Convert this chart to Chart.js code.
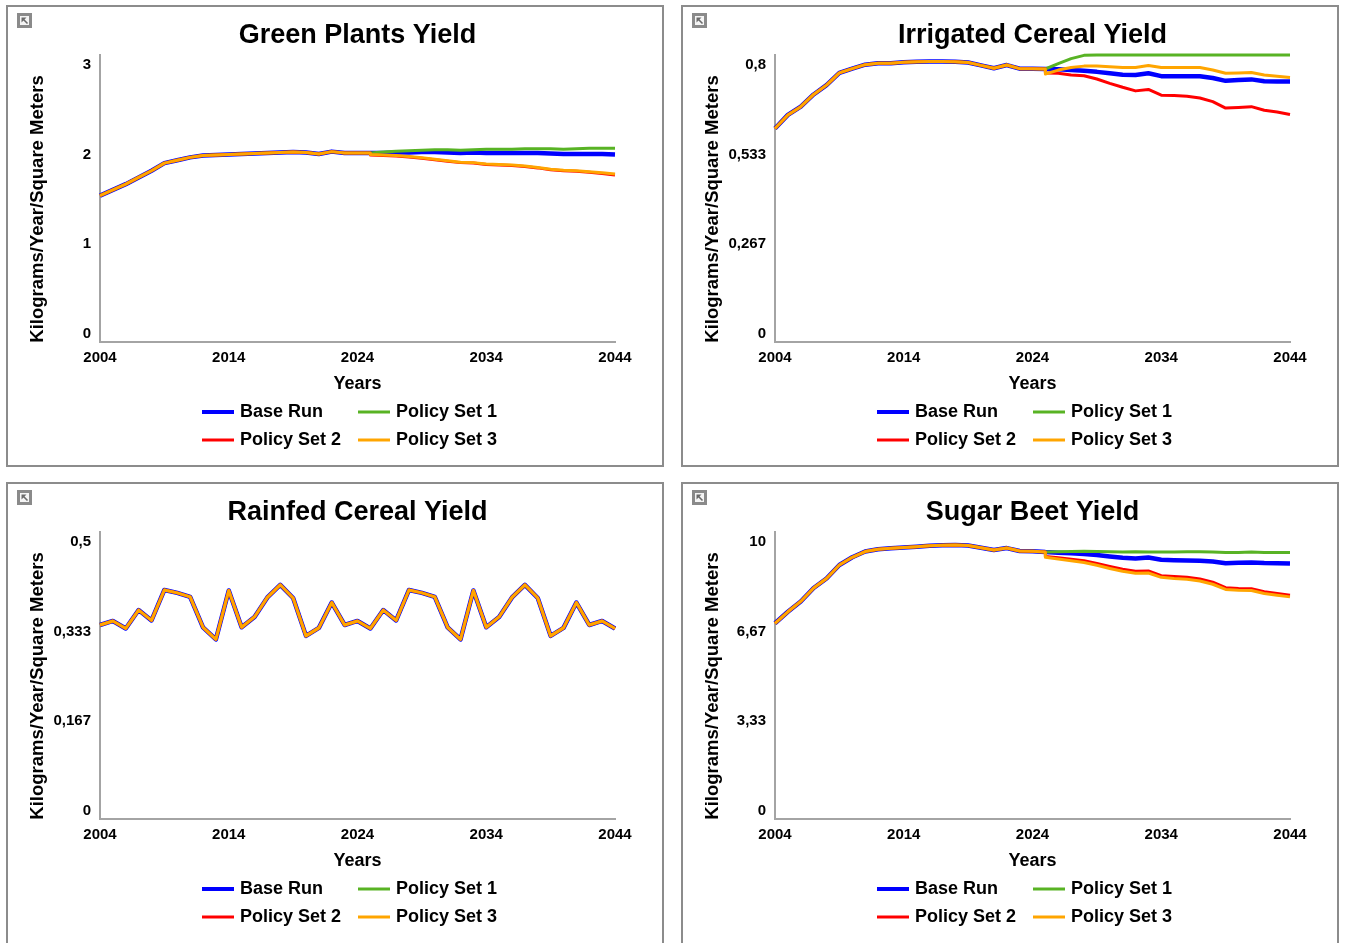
<!DOCTYPE html>
<html>
<head>
<meta charset="utf-8">
<title>Crop Yields</title>
<script src="https://cdn.jsdelivr.net/npm/chart.js@4.4.1/dist/chart.umd.min.js"></script>
<style>
  html, body { margin: 0; padding: 0; background: #fff; width: 1346px; height: 943px; overflow: hidden; }
  .panel { position: absolute; box-sizing: border-box; width: 658px; height: 462px; border: 2px solid #8c8c8c; background: #fff; }
  .panel.low { height: 472px; }
  .panel canvas { display: block; }
</style>
</head>
<body>
<div class="panel" style="left:6px;top:5px"><canvas id="greenChart" width="654" height="458"></canvas></div>
<div class="panel" style="left:681px;top:5px"><canvas id="irrigatedChart" width="654" height="458"></canvas></div>
<div class="panel low" style="left:6px;top:482px"><canvas id="rainfedChart" width="654" height="458"></canvas></div>
<div class="panel low" style="left:681px;top:482px"><canvas id="sugarChart" width="654" height="458"></canvas></div>
<script>
// ---- shared axis data ----
const years = Array.from({ length: 41 }, (_, i) => 2004 + i);   // 2004..2044
const historyYears = years.slice(0, 22);                         // 2004..2025
const policyYears = years.slice(21);                             // 2025..2044
const xTicks = [2004, 2014, 2024, 2034, 2044];
const seriesNames = ['Base Run', 'Policy Set 1', 'Policy Set 2', 'Policy Set 3'];
const seriesColors = ['#0000ff', '#58b324', '#ff0000', '#ffa500'];
const seriesWidths = [4.5, 3, 3, 3];
const yAxisTitle = 'Kilograms/Year/Square Meters';
const xAxisTitle = 'Years';

// ---- Green Plants Yield ----
const greenTicks = [0, 1, 2, 3];
const greenTickLabels = ['0', '1', '2', '3'];
const greenHistory = [1.53, 1.59, 1.65, 1.72, 1.79, 1.87, 1.90, 1.93, 1.95, 1.955, 1.96,
                      1.965, 1.97, 1.975, 1.98, 1.985, 1.98, 1.965, 1.99, 1.975, 1.975, 1.975];
const greenBase = [1.975, 1.975, 1.98, 1.98, 1.985, 1.985, 1.98, 1.975, 1.98, 1.975,
                   1.975, 1.975, 1.975, 1.975, 1.97, 1.965, 1.965, 1.965, 1.965, 1.96];
const greenPolicy1 = [1.975, 1.985, 1.995, 2.0, 2.005, 2.01, 2.01, 2.005, 2.01, 2.015,
                      2.015, 2.015, 2.02, 2.02, 2.02, 2.015, 2.02, 2.025, 2.025, 2.025];
const greenPolicy2 = [1.955, 1.95, 1.945, 1.935, 1.92, 1.905, 1.89, 1.875, 1.87, 1.855,
                      1.85, 1.845, 1.835, 1.82, 1.80, 1.79, 1.785, 1.775, 1.76, 1.745];
const greenPolicy3 = [1.96, 1.955, 1.95, 1.94, 1.925, 1.91, 1.895, 1.88, 1.875, 1.86,
                      1.855, 1.85, 1.84, 1.825, 1.805, 1.795, 1.79, 1.78, 1.77, 1.755];

// ---- Irrigated Cereal Yield ----
const irrigatedTicks = [0, 0.267, 0.533, 0.8];
const irrigatedTickLabels = ['0', '0,267', '0,533', '0,8'];
const irrigatedHistory = [0.595, 0.633, 0.656, 0.690, 0.716, 0.750, 0.762, 0.773, 0.777, 0.777, 0.780,
                          0.781, 0.782, 0.782, 0.781, 0.779, 0.771, 0.763, 0.772, 0.762, 0.762, 0.761];
const irrigatedBase = [0.761, 0.760, 0.758, 0.756, 0.753, 0.749, 0.745, 0.744, 0.749, 0.741,
                       0.741, 0.741, 0.741, 0.736, 0.728, 0.730, 0.732, 0.727, 0.726, 0.726];
const irrigatedPolicy1 = [0.761, 0.776, 0.790, 0.799, 0.8, 0.8, 0.8, 0.8, 0.8, 0.8,
                          0.8, 0.8, 0.8, 0.8, 0.8, 0.8, 0.8, 0.8, 0.8, 0.8];
const irrigatedPolicy2 = [0.750, 0.749, 0.744, 0.742, 0.733, 0.721, 0.710, 0.700, 0.704, 0.688,
                          0.687, 0.685, 0.680, 0.670, 0.652, 0.654, 0.656, 0.646, 0.641, 0.634];
const irrigatedPolicy3 = [0.747, 0.758, 0.765, 0.769, 0.769, 0.767, 0.765, 0.765, 0.771, 0.765,
                          0.765, 0.765, 0.765, 0.758, 0.749, 0.750, 0.751, 0.744, 0.741, 0.737];

// ---- Rainfed Cereal Yield (all runs coincide) ----
const rainfedTicks = [0, 0.167, 0.333, 0.5];
const rainfedTickLabels = ['0', '0,167', '0,333', '0,5'];
const rainfedAll = [0.338, 0.345, 0.332, 0.364, 0.346, 0.399, 0.394, 0.387, 0.334, 0.313, 0.398,
                    0.334, 0.352, 0.386, 0.408, 0.385, 0.319, 0.333, 0.377, 0.338, 0.345, 0.332,
                    0.364, 0.346, 0.399, 0.394, 0.387, 0.334, 0.313, 0.398, 0.334, 0.352, 0.386,
                    0.408, 0.385, 0.319, 0.333, 0.377, 0.338, 0.345, 0.332];

// ---- Sugar Beet Yield ----
const sugarTicks = [0, 3.333, 6.667, 10];
const sugarTickLabels = ['0', '3,33', '6,67', '10'];
const sugarHistory = [6.82, 7.22, 7.58, 8.05, 8.38, 8.85, 9.12, 9.32, 9.40, 9.43, 9.46,
                      9.49, 9.52, 9.54, 9.55, 9.53, 9.45, 9.37, 9.44, 9.34, 9.33, 9.30];
const sugarBase = [9.30, 9.28, 9.26, 9.23, 9.20, 9.15, 9.10, 9.08, 9.11, 9.03,
                   9.02, 9.01, 9.00, 8.97, 8.91, 8.93, 8.94, 8.92, 8.91, 8.90];
const sugarPolicy1 = [9.30, 9.31, 9.32, 9.33, 9.32, 9.31, 9.30, 9.31, 9.30, 9.30,
                      9.30, 9.31, 9.31, 9.30, 9.29, 9.29, 9.30, 9.29, 9.29, 9.29];
const sugarPolicy2 = [9.15, 9.10, 9.05, 9.00, 8.90, 8.80, 8.70, 8.63, 8.64, 8.48,
                      8.45, 8.42, 8.36, 8.25, 8.06, 8.03, 8.02, 7.92, 7.86, 7.80];
const sugarPolicy3 = [9.12, 9.06, 9.00, 8.94, 8.84, 8.73, 8.63, 8.56, 8.57, 8.42,
                      8.38, 8.35, 8.29, 8.18, 8.00, 7.97, 7.96, 7.86, 7.80, 7.74];

// ---- drawing helpers ----
const FONT = '"Liberation Sans", Arial, Helvetica, sans-serif';
const AXIS_GRAY = '#a4a4a4';

function toPoints(xs, ys) { return xs.map((x, i) => ({ x: x, y: ys[i] })); }
function runPoints(history, projection) {
  return toPoints(historyYears, history).concat(toPoints(policyYears, projection));
}

function drawIcon(ctx, x, y) {
  ctx.save();
  ctx.fillStyle = '#f4f4f4';
  ctx.fillRect(x, y, 15, 15);
  ctx.strokeStyle = '#8a8a8a';
  ctx.lineWidth = 3;
  ctx.strokeRect(x + 1.5, y + 1.5, 12, 12);
  ctx.strokeStyle = '#6a6a6a';
  ctx.lineWidth = 1.6;
  ctx.beginPath(); ctx.moveTo(x + 10.5, y + 10.5); ctx.lineTo(x + 6, y + 6); ctx.stroke();
  ctx.fillStyle = '#6a6a6a';
  ctx.beginPath(); ctx.moveTo(x + 4.5, y + 4.5); ctx.lineTo(x + 9.5, y + 4.5); ctx.lineTo(x + 4.5, y + 9.5); ctx.closePath(); ctx.fill();
  ctx.restore();
}

// Title, axis titles, y tick labels and legend for each panel
const panelDecor = {
  id: 'panelDecor',
  afterDraw(chart, args, opts) {
    const ctx = chart.ctx;
    const area = chart.chartArea;
    const cx = (area.left + area.right) / 2;
    ctx.save();
    drawIcon(ctx, 9, 6);

    ctx.fillStyle = '#000';
    ctx.textAlign = 'center';
    ctx.textBaseline = 'middle';
    ctx.font = 'bold 27px ' + FONT;
    ctx.fillText(opts.title, cx, 28.5);

    ctx.save();
    ctx.translate(30, 202);
    ctx.rotate(-Math.PI / 2);
    ctx.font = 'bold 18.5px ' + FONT;
    ctx.fillText(yAxisTitle, 0, 0);
    ctx.restore();

    ctx.font = 'bold 18px ' + FONT;
    ctx.fillText(xAxisTitle, cx, 377);

    // y tick labels, pulled inward at the ends of the axis
    const ys = chart.scales.y;
    ctx.font = 'bold 15px ' + FONT;
    ctx.textAlign = 'right';
    const h = area.bottom - area.top;
    ys.ticks.forEach((t, i) => {
      const pix = ys.getPixelForValue(t.value);
      const yLab = pix + 10 - 18 * (pix - area.top) / h;
      ctx.fillText(opts.tickLabels[i], area.left - 9, yLab);
    });

    // legend: two rows of two entries
    const colX = [194, 350];
    const rowY = [405, 433];
    ctx.textAlign = 'left';
    ctx.font = 'bold 18px ' + FONT;
    chart.data.datasets.forEach((ds, i) => {
      const x0 = colX[i % 2];
      const y0 = rowY[Math.floor(i / 2)];
      ctx.strokeStyle = ds.borderColor;
      ctx.lineWidth = i === 0 ? 4 : 3;
      ctx.beginPath(); ctx.moveTo(x0, y0); ctx.lineTo(x0 + 32, y0); ctx.stroke();
      ctx.fillStyle = '#000';
      ctx.fillText(ds.label, x0 + 38, y0);
    });
    ctx.restore();
  }
};

function makeChart(canvasId, title, yTicks, yTickLabels, runs) {
  const datasets = runs.map((pts, i) => ({
    label: seriesNames[i],
    data: pts,
    borderColor: seriesColors[i],
    backgroundColor: seriesColors[i],
    borderWidth: seriesWidths[i],
    pointRadius: 0,
    tension: 0,
    fill: false,
    clip: 8,
    order: 4 - i,
    borderJoinStyle: 'round'
  }));
  return new Chart(document.getElementById(canvasId), {
    type: 'line',
    data: { datasets: datasets },
    options: {
      responsive: false,
      animation: false,
      devicePixelRatio: 1,
      layout: { padding: { left: 92, right: 47, top: 48, bottom: 93 } },
      plugins: {
        legend: { display: false },
        tooltip: { enabled: false },
        panelDecor: { title: title, tickLabels: yTickLabels }
      },
      scales: {
        x: {
          type: 'linear',
          min: years[0],
          max: years[years.length - 1],
          afterBuildTicks: (s) => { s.ticks = xTicks.map(v => ({ value: v })); },
          afterFit: (s) => { s.height = 30; },
          grid: { display: false, drawTicks: false },
          border: { display: true, color: AXIS_GRAY, width: 2 },
          ticks: {
            callback: (v) => String(v),
            color: '#000',
            font: { family: FONT, size: 15, weight: 'bold' },
            padding: 7,
            maxRotation: 0,
            autoSkip: false
          }
        },
        y: {
          type: 'linear',
          min: yTicks[0],
          max: yTicks[yTicks.length - 1],
          afterBuildTicks: (s) => { s.ticks = yTicks.map(v => ({ value: v })); },
          afterFit: (s) => { s.width = 0; },
          grid: { display: false, drawTicks: false },
          border: { display: true, color: AXIS_GRAY, width: 2 },
          ticks: { display: false }
        }
      }
    },
    plugins: [panelDecor]
  });
}

makeChart('greenChart', 'Green Plants Yield', greenTicks, greenTickLabels, [
  runPoints(greenHistory, greenBase),
  runPoints(greenHistory, greenPolicy1),
  runPoints(greenHistory, greenPolicy2),
  runPoints(greenHistory, greenPolicy3)
]);

makeChart('irrigatedChart', 'Irrigated Cereal Yield', irrigatedTicks, irrigatedTickLabels, [
  runPoints(irrigatedHistory, irrigatedBase),
  runPoints(irrigatedHistory, irrigatedPolicy1),
  runPoints(irrigatedHistory, irrigatedPolicy2),
  runPoints(irrigatedHistory, irrigatedPolicy3)
]);

makeChart('rainfedChart', 'Rainfed Cereal Yield', rainfedTicks, rainfedTickLabels, [
  toPoints(years, rainfedAll),
  toPoints(years, rainfedAll),
  toPoints(years, rainfedAll),
  toPoints(years, rainfedAll)
]);

makeChart('sugarChart', 'Sugar Beet Yield', sugarTicks, sugarTickLabels, [
  runPoints(sugarHistory, sugarBase),
  runPoints(sugarHistory, sugarPolicy1),
  runPoints(sugarHistory, sugarPolicy2),
  runPoints(sugarHistory, sugarPolicy3)
]);
</script>
</body>
</html>
